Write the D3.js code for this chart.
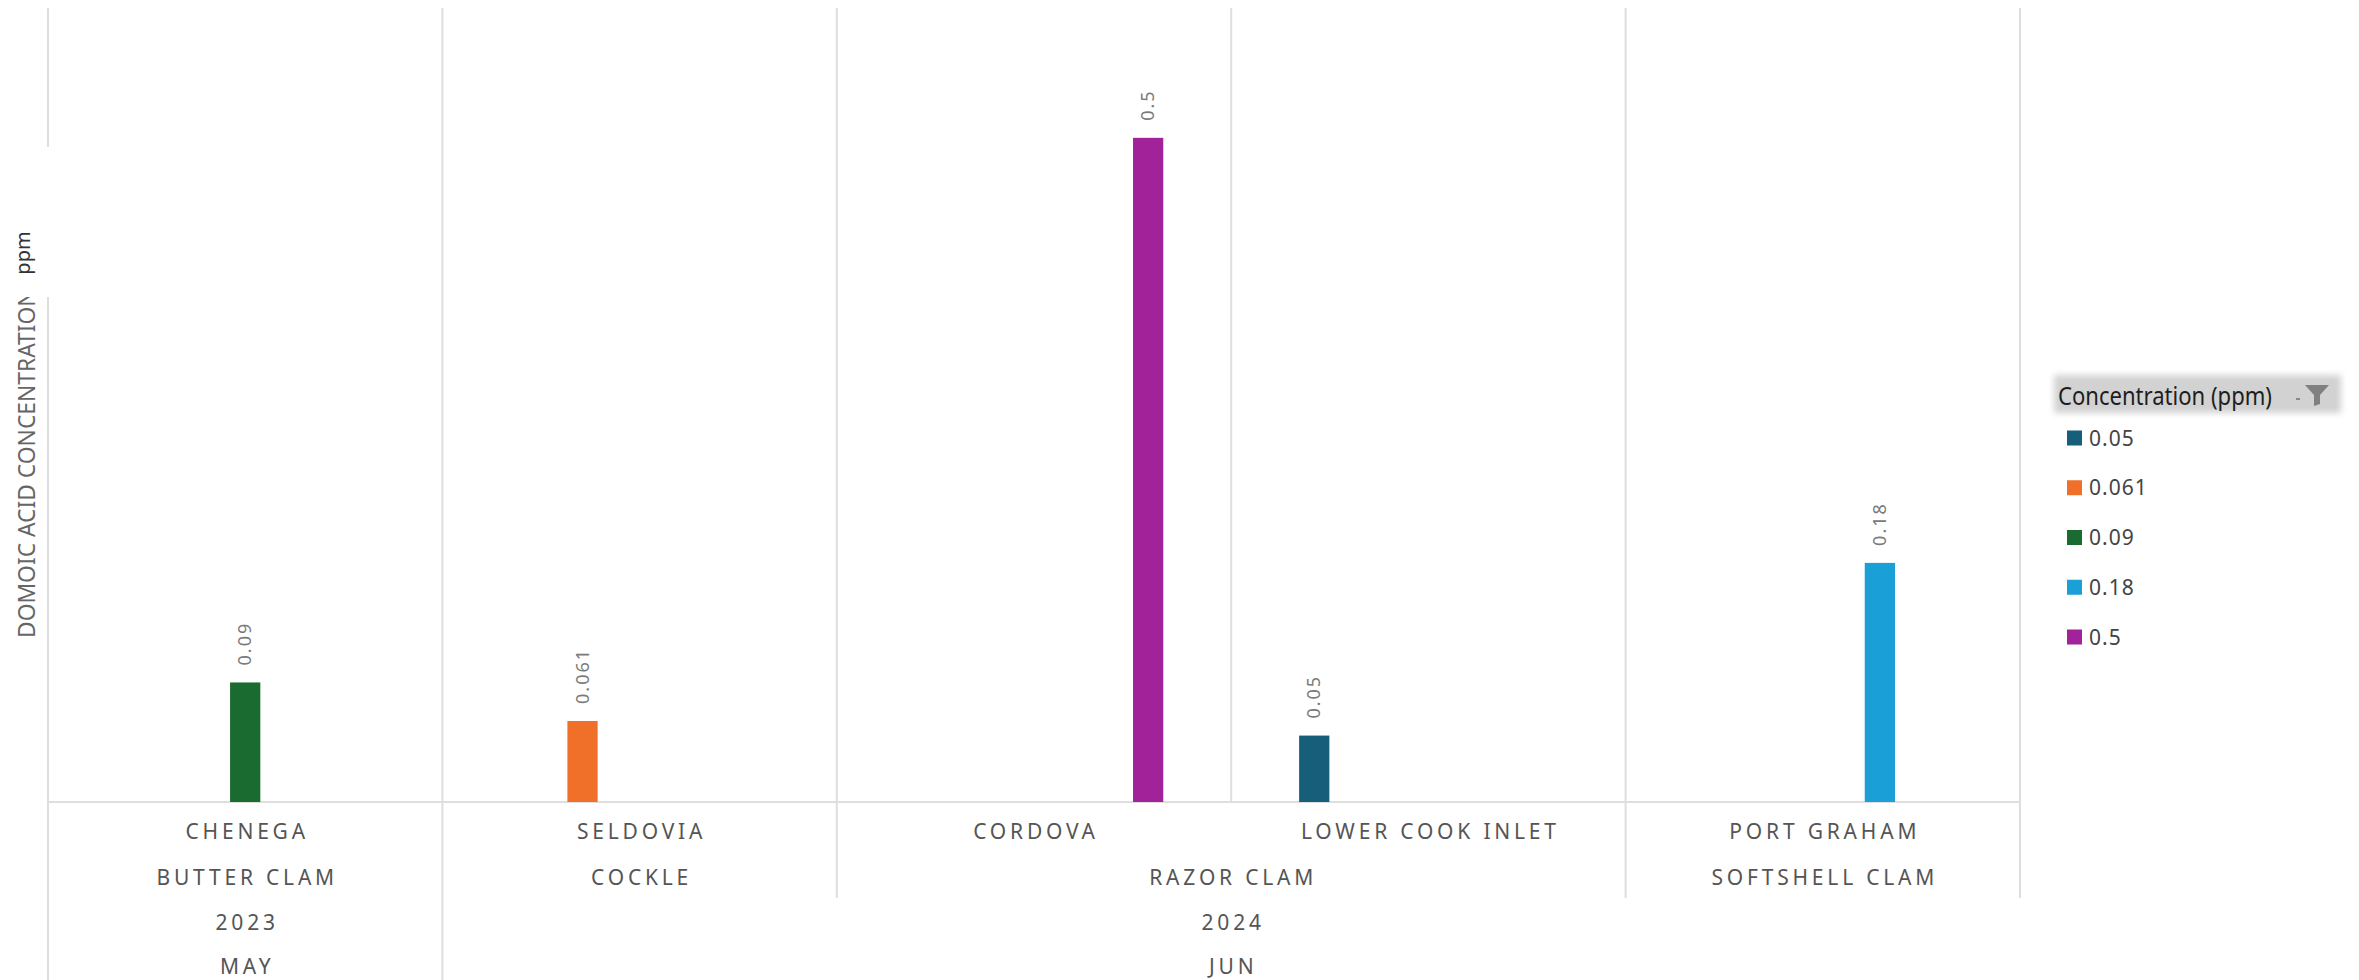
<!DOCTYPE html>
<html>
<head>
<meta charset="utf-8">
<script src="https://cdn.jsdelivr.net/npm/d3@7"></script>
<style>
  body { margin: 0; background: #fff; }
  svg text { font-family: "Noto Sans", sans-serif; }
</style>
</head>
<body>
<svg id="chart" width="2359" height="980"></svg>
<script>
// chart values
const locations = ['CHENEGA', 'SELDOVIA', 'CORDOVA', 'LOWER COOK INLET', 'PORT GRAHAM'];
const species = ['BUTTER CLAM', 'COCKLE', 'RAZOR CLAM', 'RAZOR CLAM', 'SOFTSHELL CLAM'];
const years = ['2023', '2024', '2024', '2024', '2024'];
const months = ['MAY', 'JUN', 'JUN', 'JUN', 'JUN'];
const concentrations = [0.09, 0.061, 0.5, 0.05, 0.18];
const legendValues = ['0.05', '0.061', '0.09', '0.18', '0.5'];
const legendColors = ['#175e7b', '#f0702a', '#1a6b2f', '#1a9fd6', '#a2229a'];

const svg = d3.select('#chart');
const plotLeft = 48, plotRight = 2020, plotTop = 5, baseline = 802, lineTop = 8;
const rowBaselines = [839, 885, 930, 974];
const rowBottoms = [853, 898, 943, 980];

const x0 = d3.scaleBand().domain(locations).range([plotLeft, plotRight]).padding(0);
const x1 = d3.scaleBand().domain(legendValues).range([0, x0.bandwidth()])
    .paddingInner(0.47).paddingOuter(1.19);
const y = d3.scaleLinear().domain([0, 0.6]).range([baseline, plotTop]);
const color = d3.scaleOrdinal().domain(legendValues).range(legendColors);

const bars = locations.map((loc, i) => ({ loc, value: concentrations[i], key: String(concentrations[i]) }));

// grid: vertical separators + baseline
const grid = svg.append('g').attr('stroke', '#dedede').attr('stroke-width', 2);
const levels = [locations, species, years, months];
const edges = [];
locations.forEach((loc, i) => {
    let end = rowBottoms[3];
    if (i > 0) {
        let deepest = 0;
        levels.forEach((lv, L) => { if (lv[i - 1] !== lv[i]) deepest = L; });
        end = deepest === 0 ? baseline : rowBottoms[deepest];
    }
    edges.push({ x: x0(loc), end });
});
edges.push({ x: plotRight, end: rowBottoms[1] });

grid.selectAll('line.v')
    .data(edges)
    .enter().append('line')
    .attr('class', 'v')
    .attr('x1', d => d.x).attr('x2', d => d.x)
    .attr('y1', lineTop).attr('y2', d => d.end);

grid.append('line')
    .attr('x1', plotLeft).attr('x2', plotRight)
    .attr('y1', y(0)).attr('y2', y(0));

// bars
svg.append('g').selectAll('rect')
    .data(bars)
    .enter().append('rect')
    .attr('x', d => x0(d.loc) + x1(d.key))
    .attr('y', d => y(d.value))
    .attr('width', x1.bandwidth())
    .attr('height', d => y(0) - y(d.value))
    .attr('fill', d => color(d.key));

// value labels (rotated)
svg.append('g').selectAll('text')
    .data(bars)
    .enter().append('text')
    .attr('transform', d => `translate(${x0(d.loc) + x1(d.key) + x1.bandwidth() / 2 + 6},${y(d.value) - 17}) rotate(-90)`)
    .attr('text-anchor', 'start')
    .attr('font-size', 18)
    .attr('letter-spacing', 2)
    .attr('fill', '#7a7a7a')
    .text(d => d.key);

// hierarchical x labels
levels.forEach((lv, L) => {
    const groups = [];
    lv.forEach((v, i) => {
        const last = groups[groups.length - 1];
        if (last && last.label === v) last.to = i;
        else groups.push({ label: v, from: i, to: i });
    });
    svg.append('g').selectAll('text')
        .data(groups)
        .enter().append('text')
        .attr('x', d => (x0(locations[d.from]) + x0(locations[d.to]) + x0.bandwidth()) / 2 + 2)
        .attr('y', rowBaselines[L])
        .attr('text-anchor', 'middle')
        .attr('font-size', 21)
        .attr('letter-spacing', 3.8)
        .attr('fill', '#555')
        .text(d => d.label);
});

// y axis title
svg.append('text')
    .attr('transform', 'translate(35,638) rotate(-90)')
    .attr('font-size', 22.8)
    .attr('fill', '#666')
    .text('DOMOIC ACID CONCENTRATION');

svg.append('rect')
    .attr('x', 0).attr('y', 147).attr('width', 62).attr('height', 150)
    .attr('fill', '#fff');

svg.append('text')
    .attr('transform', 'translate(30,253) rotate(-90)')
    .attr('text-anchor', 'middle')
    .attr('font-size', 20)
    .attr('fill', '#333')
    .text('ppm');

// legend
const defs = svg.append('defs');
defs.append('filter').attr('id', 'soft')
    .attr('x', '-10%').attr('y', '-30%').attr('width', '120%').attr('height', '160%')
    .append('feGaussianBlur').attr('stdDeviation', 3);

const legend = svg.append('g');
legend.append('rect')
    .attr('x', 2054).attr('y', 375).attr('width', 287).attr('height', 38)
    .attr('fill', '#d2d2d2')
    .attr('filter', 'url(#soft)');

legend.append('text')
    .attr('x', 2058).attr('y', 405)
    .attr('font-size', 26)
    .attr('textLength', 214)
    .attr('lengthAdjust', 'spacingAndGlyphs')
    .attr('fill', '#1e1e1e')
    .text('Concentration (ppm)');

legend.append('rect')
    .attr('x', 2296).attr('y', 398).attr('width', 4).attr('height', 2)
    .attr('fill', '#888');
legend.append('path')
    .attr('d', 'M2305,385 L2329,385 L2320,395 L2320,404 L2314,406 L2314,395 Z')
    .attr('fill', '#808080');

const legendY = d3.scalePoint().domain(legendValues).range([438, 637]);
const items = legend.selectAll('g.item')
    .data(legendValues)
    .enter().append('g')
    .attr('class', 'item')
    .attr('transform', d => `translate(2067,${legendY(d)})`);

items.append('rect')
    .attr('x', 0).attr('y', -7.5)
    .attr('width', 15).attr('height', 15)
    .attr('fill', d => color(d));

items.append('text')
    .attr('x', 22).attr('y', 7.5)
    .attr('font-size', 21)
    .attr('letter-spacing', 1)
    .attr('fill', '#444')
    .text(d => d);
</script>
</body>
</html>
